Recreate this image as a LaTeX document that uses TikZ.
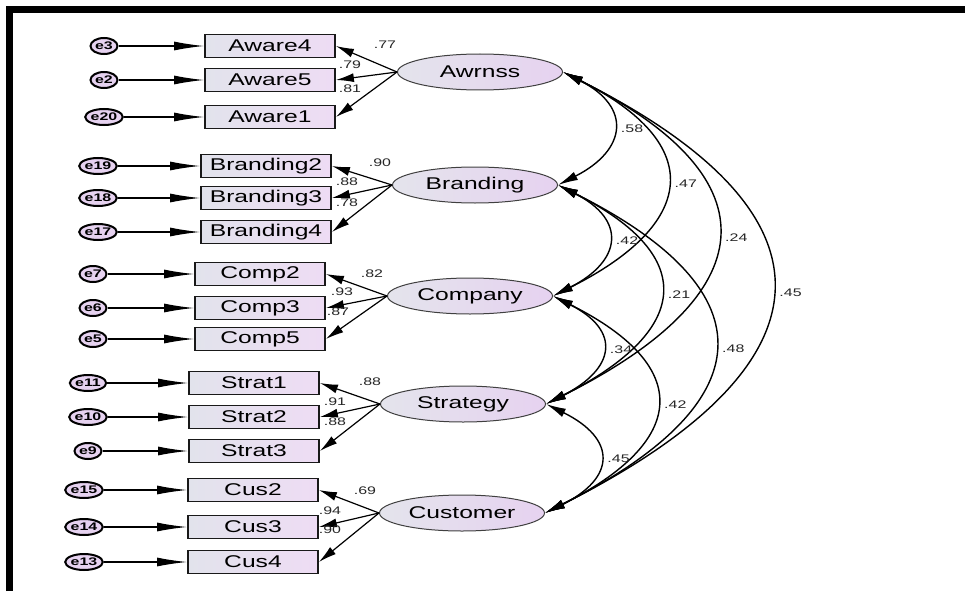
\documentclass[tikz,border=0pt]{standalone}
\usepackage{fontspec}
\newfontfamily\amosfont[FakeStretch=1.45]{Liberation Sans}
\usepackage{tikz}
\usetikzlibrary{shapes.geometric,shadings}
\usetikzlibrary{arrows.meta}
\definecolor{boxleft}{HTML}{E2E3EC}
\definecolor{boxright}{HTML}{EEDCF4}
\definecolor{latleft}{HTML}{E4E4EC}
\definecolor{latright}{HTML}{E6D2F0}

\begin{document}
\begin{tikzpicture}[x=1pt,y=-1pt,
    obs/.style={draw=black!90,line width=1.8pt,left color=boxleft,right color=boxright,
        minimum width=130pt,minimum height=23pt,inner sep=0pt,
        font=\amosfont\fontsize{17}{17}\selectfont},
    lat/.style={ellipse,draw=black!75,line width=1pt,left color=latleft,right color=latright,
        minimum width=165pt,minimum height=36pt,inner sep=0pt,
        font=\amosfont\fontsize{17}{17}\selectfont},
    err/.style={ellipse,draw=black,line width=2pt,fill=latright,
        minimum width=27pt,minimum height=16pt,inner sep=0pt,
        font=\amosfont\bfseries\fontsize{11}{11}\selectfont},
    coef/.style={inner sep=0pt,text=black!85,font=\amosfont\fontsize{11}{11}\selectfont},
    toerr/.style={line width=1.3pt,-{Latex[length=30pt,width=9pt]}},
    load/.style={line width=1.2pt,-{Latex[length=18pt,width=9pt]}},
    cov/.style={line width=1.4pt,{Latex[length=20pt,width=9pt]}-{Latex[length=20pt,width=9pt]}}]
    \useasboundingbox (0,0) rectangle (965,591);
    \draw[line width=7pt] (9.5,591) -- (9.5,9.5) -- (965,9.5);

    % latent variables
    \node[lat] (awr) at (480,72) {Awrnss};
    \node[lat] (bra) at (475,185) {Branding};
    \node[lat] (com) at (470,296) {Company};
    \node[lat] (str) at (463,404) {Strategy};
    \node[lat] (cus) at (462,513) {Customer};

    % indicators
    \node[obs] (aw4) at (270,46) {Aware4};
    \node[obs] (aw5) at (270,80) {Aware5};
    \node[obs] (aw1) at (270,117) {Aware1};
    \node[obs] (br2) at (266,166) {Branding2};
    \node[obs] (br3) at (266,198) {Branding3};
    \node[obs] (br4) at (266,232) {Branding4};
    \node[obs] (co2) at (260,274) {Comp2};
    \node[obs] (co3) at (260,308) {Comp3};
    \node[obs] (co5) at (260,339) {Comp5};
    \node[obs] (st1) at (254,383) {Strat1};
    \node[obs] (st2) at (254,417) {Strat2};
    \node[obs] (st3) at (254,451) {Strat3};
    \node[obs] (cu2) at (253,490) {Cus2};
    \node[obs] (cu3) at (253,527) {Cus3};
    \node[obs] (cu4) at (253,562) {Cus4};

    % error terms
    \node[err] (e3) at (104,46) {e3};
    \node[err] (e2) at (104,80) {e2};
    \node[err] (e20) at (104,117) {e20};
    \node[err] (e19) at (98,166) {e19};
    \node[err] (e18) at (98,198) {e18};
    \node[err] (e17) at (98,232) {e17};
    \node[err] (e7) at (93,274) {e7};
    \node[err] (e6) at (93,308) {e6};
    \node[err] (e5) at (93,339) {e5};
    \node[err] (e11) at (88,383) {e11};
    \node[err] (e10) at (88,417) {e10};
    \node[err] (e9) at (88,451) {e9};
    \node[err] (e15) at (84,490) {e15};
    \node[err] (e14) at (84,527) {e14};
    \node[err] (e13) at (84,562) {e13};

    \draw[toerr] (e3) -- (aw4);
    \draw[toerr] (e2) -- (aw5);
    \draw[toerr] (e20) -- (aw1);
    \draw[toerr] (e19) -- (br2);
    \draw[toerr] (e18) -- (br3);
    \draw[toerr] (e17) -- (br4);
    \draw[toerr] (e7) -- (co2);
    \draw[toerr] (e6) -- (co3);
    \draw[toerr] (e5) -- (co5);
    \draw[toerr] (e11) -- (st1);
    \draw[toerr] (e10) -- (st2);
    \draw[toerr] (e9) -- (st3);
    \draw[toerr] (e15) -- (cu2);
    \draw[toerr] (e14) -- (cu3);
    \draw[toerr] (e13) -- (cu4);

    % loadings
    \draw[load] (awr.west) -- (aw4.east);
    \draw[load] (awr.west) -- (aw5.east);
    \draw[load] (awr.west) -- (aw1.east);
    \draw[load] (bra.west) -- (br2.east);
    \draw[load] (bra.west) -- (br3.east);
    \draw[load] (bra.west) -- (br4.east);
    \draw[load] (com.west) -- (co2.east);
    \draw[load] (com.west) -- (co3.east);
    \draw[load] (com.west) -- (co5.east);
    \draw[load] (str.west) -- (st1.east);
    \draw[load] (str.west) -- (st2.east);
    \draw[load] (str.west) -- (st3.east);
    \draw[load] (cus.west) -- (cu2.east);
    \draw[load] (cus.west) -- (cu3.east);
    \draw[load] (cus.west) -- (cu4.east);

    \node[coef] (l1) at (385,45) {.77};
    \node[coef] (l2) at (350,65) {.79};
    \node[coef] (l3) at (350,89) {.81};
    \node[coef] (l4) at (380,163) {.90};
    \node[coef] (l5) at (347,182) {.88};
    \node[coef] (l6) at (347,203) {.78};
    \node[coef] (l7) at (372,274) {.82};
    \node[coef] (l8) at (342,292) {.93};
    \node[coef] (l9) at (338,312) {.87};
    \node[coef] (l10) at (370,382) {.88};
    \node[coef] (l11) at (335,402) {.91};
    \node[coef] (l12) at (335,422) {.88};
    \node[coef] (l13) at (365,491) {.69};
    \node[coef] (l14) at (330,511) {.94};
    \node[coef] (l15) at (330,530) {.90};

    % covariances
    \draw[cov] (awr.east) .. controls +(69,35) and +(69,-35) .. (bra.east)
        node[coef,pos=0.5,right=8pt] (c1) {.58};
    \draw[cov] (awr.east) .. controls +(144,72) and +(144,-72) .. (com.east)
        node[coef,pos=0.5,right=8pt] (c2) {.47};
    \draw[cov] (awr.east) .. controls +(216,108) and +(216,-108) .. (str.east)
        node[coef,pos=0.5,right=8pt] (c3) {.24};
    \draw[cov] (awr.east) .. controls +(289,145) and +(289,-145) .. (cus.east)
        node[coef,pos=0.5,right=8pt] (c4) {.45};
    \draw[cov] (bra.east) .. controls +(69,35) and +(69,-35) .. (com.east)
        node[coef,pos=0.5,right=8pt] (c5) {.42};
    \draw[cov] (bra.east) .. controls +(143,72) and +(143,-72) .. (str.east)
        node[coef,pos=0.5,right=8pt] (c6) {.21};
    \draw[cov] (bra.east) .. controls +(216,108) and +(216,-108) .. (cus.east)
        node[coef,pos=0.5,right=8pt] (c7) {.48};
    \draw[cov] (com.east) .. controls +(69,35) and +(69,-35) .. (str.east)
        node[coef,pos=0.5,right=8pt] (c8) {.34};
    \draw[cov] (com.east) .. controls +(142,71) and +(142,-71) .. (cus.east)
        node[coef,pos=0.5,right=8pt] (c9) {.42};
    \draw[cov] (str.east) .. controls +(71,35) and +(71,-35) .. (cus.east)
        node[coef,pos=0.5,right=8pt] (c10) {.45};
\end{tikzpicture}
\end{document}
